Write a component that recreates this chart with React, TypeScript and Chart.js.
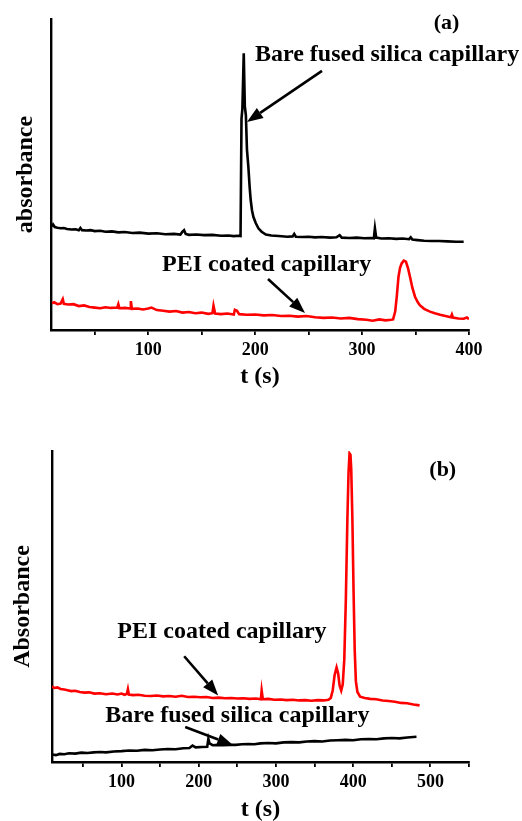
import React, { useEffect, useRef } from 'react';
import { Chart, registerables } from 'chart.js';

Chart.register(...registerables);

const FONT = "'Liberation Serif', 'Times New Roman', Times, serif";

// ---------- data: (a) ----------
const bareA: [number, number][] = [
  [10, 33.2], [11, 33.9], [12.5, 33.1], [15, 32.9], [18, 32.7], [21, 32.8], [24, 32.5], [28, 32.3], [32, 32.4],
  [35, 32.1], [36.5, 32.8], [38, 32.1], [42, 32.0], [46, 32.1], [50, 31.8], [55, 31.9], [60, 31.6], [66, 31.7],
  [72, 31.4], [78, 31.5], [85, 31.2], [92, 31.3], [100, 31.0], [108, 31.1], [116, 30.8], [124, 30.9], [130, 30.7],
  [132, 31.6], [133.5, 32.1], [135, 30.9], [138, 30.6], [145, 30.7], [152, 30.5], [160, 30.6], [168, 30.3],
  [175, 30.4], [180, 30.2], [184, 30.3], [186.3, 30.2], [187.2, 68], [188, 71], [189.3, 89], [190.3, 72],
  [191.3, 69], [192.3, 58], [193.6, 52.5], [194.8, 46], [195.8, 41.8], [197, 38.5], [198.3, 36.4], [200.5, 34.4],
  [203, 32.7], [206, 31.6], [210, 30.7], [215, 30.4], [222, 30.2], [230, 30.0], [235, 30.1], [236.5, 30.9],
  [238, 30.0], [244, 29.9], [250, 30.0], [256, 29.8], [262, 29.9], [270, 29.7], [276, 29.8], [279, 30.5],
  [281, 29.7], [288, 29.6], [295, 29.7], [302, 29.5], [308, 29.6], [311, 29.5], [312, 32.7], [313.2, 29.7],
  [318, 29.4], [325, 29.5], [332, 29.3], [338, 29.4], [344, 29.2], [345.5, 29.8], [347, 29.1], [352, 28.9],
  [358, 28.7], [365, 28.6], [372, 28.6], [380, 28.5], [388, 28.4], [395, 28.4],
];

const peiA: [number, number][] = [
  [10, 8.6], [12, 8.9], [15, 8.3], [18, 8.5], [20, 9.9], [21, 8.4], [25, 8.2], [30, 8.3], [35, 7.7], [40, 7.9],
  [45, 7.4], [50, 7.2], [55, 7.0], [60, 7.3], [65, 7.1], [71, 7.2], [72, 8.3], [73, 7.0], [78, 7.1], [83, 6.9],
  [83.7, 9.3], [84.7, 6.8], [90, 6.9], [95, 6.6], [100, 6.9], [103, 7.2], [108, 6.4], [114, 6.2], [120, 5.9],
  [126, 6.1], [132, 5.6], [138, 5.8], [144, 5.4], [150, 5.6], [156, 5.2], [160, 5.4], [161, 7.8], [162.5, 5.3],
  [168, 5.1], [174, 5.3], [180, 5.0], [181, 6.5], [183, 6.2], [185, 5.1], [192, 4.9], [200, 5.0], [208, 4.7],
  [216, 4.8], [224, 4.5], [232, 4.6], [240, 4.3], [248, 4.5], [256, 4.1], [264, 3.9], [272, 4.0], [280, 3.7],
  [288, 3.9], [296, 3.5], [304, 3.3], [310, 3.0], [316, 3.4], [322, 3.1], [327, 3.3], [329, 3.4], [331, 6.0],
  [332.5, 11.0], [334, 17.0], [335.5, 20.0], [337, 21.4], [339, 22.3], [341, 22.0], [343, 19.8], [345, 16.8],
  [347, 13.6], [349.5, 10.7], [352, 9.0], [354, 8.0], [358, 6.8], [363.5, 5.9], [368, 5.4], [373, 4.9],
  [378, 4.5], [383, 4.1], [384, 5.0], [385, 4.0], [390, 3.7], [395, 3.6], [398, 4.0], [400, 3.5],
];

// ---------- data: (b) ----------
const peiB: [number, number][] = [
  [10, 24.3], [13, 23.8], [17, 24.0], [21, 23.5], [26, 23.3], [30, 23.1], [35, 22.8], [40, 22.9], [46, 22.5],
  [52, 22.3], [58, 22.4], [65, 22.0], [72, 22.1], [80, 21.8], [88, 22.0], [95, 21.7], [100, 22.0], [104, 21.6],
  [107, 21.9], [108.3, 23.4], [109.5, 21.7], [115, 21.5], [122, 21.6], [130, 21.3], [138, 21.2], [146, 21.4],
  [154, 21.1], [162, 21.2], [170, 21.0], [178, 21.3], [186, 20.9], [194, 21.0], [202, 20.8], [210, 20.9],
  [218, 20.6], [226, 20.7], [234, 20.5], [242, 20.6], [250, 20.4], [258, 20.5], [266, 20.3], [274, 20.4],
  [280.5, 20.2], [281.5, 23.0], [283, 20.2], [290, 20.3], [298, 20.0], [306, 20.1], [314, 19.9], [322, 20.0],
  [330, 19.8], [338, 19.9], [346, 19.7], [354, 19.9], [362, 19.8], [368, 20.0], [371, 20.6], [373.5, 23],
  [376, 28], [378.5, 30.4], [380.5, 28.5], [382.5, 24.5], [384.5, 23.0], [386.5, 25], [388.5, 33], [390.5, 52],
  [392.5, 78], [394, 93], [395.3, 99.2], [396.5, 98.8], [397.5, 94], [399, 78], [400.5, 55], [402, 36],
  [403.5, 26], [405.5, 22.5], [409, 21.0], [415, 20.6], [422, 20.3], [430, 20.2], [438, 19.8], [446, 19.6],
  [454, 19.4], [462, 19.0], [470, 18.9], [478, 18.5], [486, 18.2],
];

const bareB: [number, number][] = [
  [10, 2.4], [15, 2.2], [20, 2.6], [26, 2.5], [32, 2.8], [40, 2.7], [48, 3.0], [56, 2.9], [64, 3.1], [72, 3.2],
  [80, 3.1], [90, 3.4], [100, 3.5], [110, 3.7], [120, 3.6], [130, 3.9], [140, 3.8], [150, 4.0], [160, 4.2],
  [170, 4.1], [180, 4.4], [188, 4.5], [192, 5.3], [196, 4.7], [204, 4.8], [211, 4.9], [212.5, 7.4], [214, 6.0],
  [218, 5.4], [225, 5.5], [232, 5.4], [240, 5.5], [248, 5.5], [256, 5.7], [264, 5.8], [272, 5.7], [280, 6.0],
  [290, 6.1], [300, 6.0], [310, 6.3], [320, 6.4], [330, 6.3], [340, 6.6], [350, 6.7], [360, 6.6], [370, 6.9],
  [380, 7.0], [390, 7.1], [400, 7.0], [410, 7.3], [420, 7.4], [430, 7.3], [440, 7.6], [450, 7.7], [460, 7.6],
  [470, 7.9], [482, 8.1],
];

const ticksA = [50, 100, 150, 200, 250, 300, 350, 400];
const ticksB = [50, 100, 150, 200, 250, 300, 350, 400, 450, 500, 550];

type TextAnn = { text: string; t: number; v: number; align: CanvasTextAlign; size: number };
type ArrowAnn = { from: [number, number]; to: [number, number] };

const textsA: TextAnn[] = [
  { text: '(a)', t: 379, v: 98.7, align: 'center', size: 22 },
  { text: 'Bare fused silica capillary', t: 199.8, v: 88.4, align: 'left', size: 24 },
  { text: 'PEI coated capillary', t: 112.8, v: 20.9, align: 'left', size: 24 },
];
const arrowsA: ArrowAnn[] = [
  { from: [262.5, 83.3], to: [192.3, 66.9] },
  { from: [212, 16.4], to: [246.6, 5.5] },
];
const textsB: TextAnn[] = [
  { text: '(b)', t: 516, v: 93.8, align: 'center', size: 22 },
  { text: 'PEI coated capillary', t: 94.5, v: 41.8, align: 'left', size: 24 },
  { text: 'Bare fused silica capillary', t: 79, v: 14.7, align: 'left', size: 24 },
];
const arrowsB: ArrowAnn[] = [
  { from: [181.2, 34], to: [225.2, 21.4] },
  { from: [182.5, 11.25], to: [244.6, 5.4] },
];

function annotPlugin(texts: TextAnn[], arrows: ArrowAnn[]) {
  return {
    id: 'annot',
    afterDatasetsDraw(chart: any) {
      const { ctx } = chart;
      const xs = chart.scales.x;
      const ys = chart.scales.y;
      ctx.save();
      ctx.fillStyle = '#000';
      ctx.strokeStyle = '#000';
      texts.forEach((tx) => {
        ctx.font = `bold ${tx.size}px ${FONT}`;
        ctx.textAlign = tx.align;
        ctx.textBaseline = 'middle';
        ctx.fillText(tx.text, xs.getPixelForValue(tx.t), ys.getPixelForValue(tx.v));
      });
      arrows.forEach((a) => {
        const x1 = xs.getPixelForValue(a.from[0]);
        const y1 = ys.getPixelForValue(a.from[1]);
        const x2 = xs.getPixelForValue(a.to[0]);
        const y2 = ys.getPixelForValue(a.to[1]);
        const ang = Math.atan2(y2 - y1, x2 - x1);
        const hl = 16;
        const hw = 6;
        const c = Math.cos(ang);
        const s = Math.sin(ang);
        const bx = x2 - hl * c;
        const by = y2 - hl * s;
        ctx.lineWidth = 2.6;
        ctx.beginPath();
        ctx.moveTo(x1, y1);
        ctx.lineTo(bx, by);
        ctx.stroke();
        ctx.beginPath();
        ctx.moveTo(x2, y2);
        ctx.lineTo(bx + hw * s, by - hw * c);
        ctx.lineTo(bx - hw * s, by + hw * c);
        ctx.closePath();
        ctx.fill();
      });
      ctx.restore();
    },
  };
}

function makeConfig(opts: {
  series: { data: [number, number][]; color: string }[];
  xMin: number; xMax: number; ticks: number[];
  yTitle: string; yWidth: number; yTitlePad: number;
  xHeight: number; tickPad: number; xTitlePad: number;
  padTop: number; padRight: number;
  texts: TextAnn[]; arrows: ArrowAnn[];
}): any {
  return {
    type: 'line',
    data: {
      datasets: opts.series.map((s) => ({
        data: s.data.map(([x, y]) => ({ x, y })),
        borderColor: s.color,
        borderWidth: 2.6,
        pointRadius: 0,
        tension: 0,
        fill: false,
      })),
    },
    options: {
      animation: false,
      responsive: false,
      devicePixelRatio: 1,
      layout: { padding: { top: opts.padTop, right: opts.padRight, left: 0, bottom: 0 } },
      plugins: { legend: { display: false }, tooltip: { enabled: false } },
      events: [],
      scales: {
        x: {
          type: 'linear',
          min: opts.xMin,
          max: opts.xMax,
          afterBuildTicks: (s: any) => { s.ticks = opts.ticks.map((value) => ({ value })); },
          afterFit: (s: any) => { s.height = opts.xHeight; },
          ticks: {
            autoSkip: false, maxRotation: 0, minRotation: 0, padding: opts.tickPad, color: '#000',
            font: { family: FONT, size: 18, weight: 'bold' },
            callback: (v: any) => (Number(v) % 100 === 0 ? String(v) : ''),
          },
          grid: {
            display: true, drawOnChartArea: false, drawTicks: true, tickLength: 5,
            tickColor: '#000', tickWidth: 1.8, color: '#000', lineWidth: 1.8,
          },
          border: { display: true, color: '#000', width: 2.4 },
          title: {
            display: true, text: 't (s)', color: '#000',
            font: { family: FONT, size: 24, weight: 'bold', lineHeight: 1 },
            padding: { top: 0, bottom: opts.xTitlePad },
          },
        },
        y: {
          type: 'linear',
          min: 0,
          max: 100,
          afterFit: (s: any) => { s.width = opts.yWidth; },
          ticks: { display: false },
          grid: { display: false },
          border: { display: true, color: '#000', width: 2.4 },
          title: {
            display: true, text: opts.yTitle, color: '#000',
            font: { family: FONT, size: 24, weight: 'bold', lineHeight: 1 },
            padding: { top: opts.yTitlePad, bottom: 0 },
          },
        },
      },
    },
    plugins: [annotPlugin(opts.texts, opts.arrows)],
  };
}

export default function App() {
  const refA = useRef<HTMLCanvasElement>(null);
  const refB = useRef<HTMLCanvasElement>(null);

  useEffect(() => {
    const chartA = new Chart(refA.current as HTMLCanvasElement, makeConfig({
      series: [{ data: bareA, color: '#000000' }, { data: peiA, color: '#ff0000' }],
      xMin: 9, xMax: 400, ticks: ticksA,
      yTitle: 'absorbance', yWidth: 51, yTitlePad: 14,
      xHeight: 80, tickPad: 5, xTitlePad: 21,
      padTop: 19, padRight: 53,
      texts: textsA, arrows: arrowsA,
    }));
    const chartB = new Chart(refB.current as HTMLCanvasElement, makeConfig({
      series: [{ data: peiB, color: '#ff0000' }, { data: bareB, color: '#000000' }],
      xMin: 10, xMax: 550, ticks: ticksB,
      yTitle: 'Absorbance', yWidth: 52, yTitlePad: 11,
      xHeight: 59, tickPad: 5, xTitlePad: -1,
      padTop: 41, padRight: 53,
      texts: textsB, arrows: arrowsB,
    }));
    return () => {
      chartA.destroy();
      chartB.destroy();
    };
  }, []);

  return (
    <div style={{ position: 'absolute', left: 0, top: 0, width: 522, height: 821, background: '#fff' }}>
      <canvas ref={refA} width={522} height={410} style={{ position: 'absolute', left: 0, top: 0, display: 'block' }} />
      <canvas ref={refB} width={522} height={411} style={{ position: 'absolute', left: 0, top: 410, display: 'block' }} />
    </div>
  );
}
